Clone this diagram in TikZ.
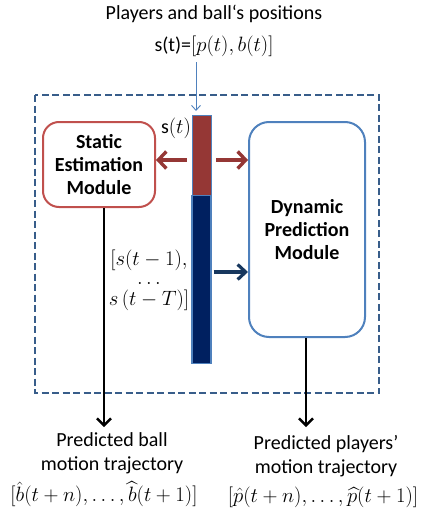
\documentclass[tikz,border=0pt]{standalone}
\usepackage{fontspec}
\setmainfont{Carlito}
\usepackage{amsmath}
\usetikzlibrary{arrows.meta}
\definecolor{boxred}{HTML}{C0504D}
\definecolor{barred}{HTML}{953735}
\definecolor{barblue}{HTML}{002060}
\definecolor{boxblue}{HTML}{4F81BD}
\definecolor{dashblue}{HTML}{385D8A}
\definecolor{darkarrow}{HTML}{17375E}
\begin{document}
\begin{tikzpicture}[x=1pt,y=-1pt,
  txt/.style={font=\fontsize{20}{24}\selectfont, align=center, inner sep=0pt},
  mth/.style={font=\fontsize{21}{24}\selectfont, inner sep=0pt},
  modbox/.style={draw, line width=2pt, rounded corners=16pt, font=\fontsize{20}{23}\selectfont\bfseries, align=center, inner sep=0pt},
  redarr/.style={draw=barred, line width=3.6pt, -{Straight Barb[length=8pt,width=17pt,line width=3.4pt]}},
  blkarr/.style={draw=black, line width=2.4pt, -{Straight Barb[length=7pt,width=14pt,line width=2.4pt]}}
]
\useasboundingbox (0,0) rectangle (425,514);
\node[txt] (title) at (214,14) {Players and ball‘s positions};
\node[txt] (st) at (214,46) {s(t)=$[p(t),b(t)]$};
\draw[dashblue, line width=1.8pt, dash pattern=on 7pt off 3.5pt] (35,95) rectangle (379,393);
\node[modbox, draw=boxred, minimum width=112pt, minimum height=85pt] (sem) at (99,164.5) {Static\\Estimation\\Module};
\node[modbox, draw=boxblue, minimum width=116pt, minimum height=215pt, rounded corners=20pt] (dpm) at (307,229.5) {Dynamic\\Prediction\\Module};
\node[draw=boxblue, line width=0.6pt, fill=barred, minimum width=19pt, minimum height=80pt, inner sep=0pt, anchor=north] (barr) at (201.5,115) {};
\node[draw=boxblue, line width=1.2pt, fill=barblue, minimum width=19pt, minimum height=168pt, inner sep=0pt, anchor=north] (barb) at (201.5,195) {};
\node[txt] (stl) at (176,128) {s$(t)$};
\coordinate (ain) at (196,62);
\draw[boxblue, line width=0.9pt, -{Straight Barb[length=5pt,width=9pt]}] (ain) -- (196,111);
\draw[redarr] ([xshift=-5pt]barr.west |- 0,160) -- (sem.east |- 0,160);
\draw[redarr] ([xshift=5pt]barr.east |- 0,160) -- (dpm.west |- 0,160);
\draw[draw=darkarrow, line width=3.4pt, -{Straight Barb[length=8pt,width=15pt,line width=3.2pt]}] ([xshift=2pt]barb.east |- 0,272) -- (dpm.west |- 0,272);
\node[txt, font=\fontsize{20}{21}\selectfont] (hist) at (149,280) {$[s(t-1),$\\[-2pt]$\ldots$\\$s\,(t-T)]$};
\node[txt] (outb) at (112,453) {Predicted ball\\motion trajectory};
\node[mth] (outbm) at (104,494) {$[\hat b(t+n),\ldots,\widehat b(t+1)]$};
\node[txt] (outp) at (326,456) {Predicted players’\\motion trajectory};
\node[mth] (outpm) at (323,497) {$[\hat p(t+n),\ldots,\widehat p(t+1)]$};
\draw[blkarr] (sem.south -| 104,0) -- (104,427);
\draw[blkarr] (dpm.south -| 306,0) -- (306,427);
\end{tikzpicture}
\end{document}
